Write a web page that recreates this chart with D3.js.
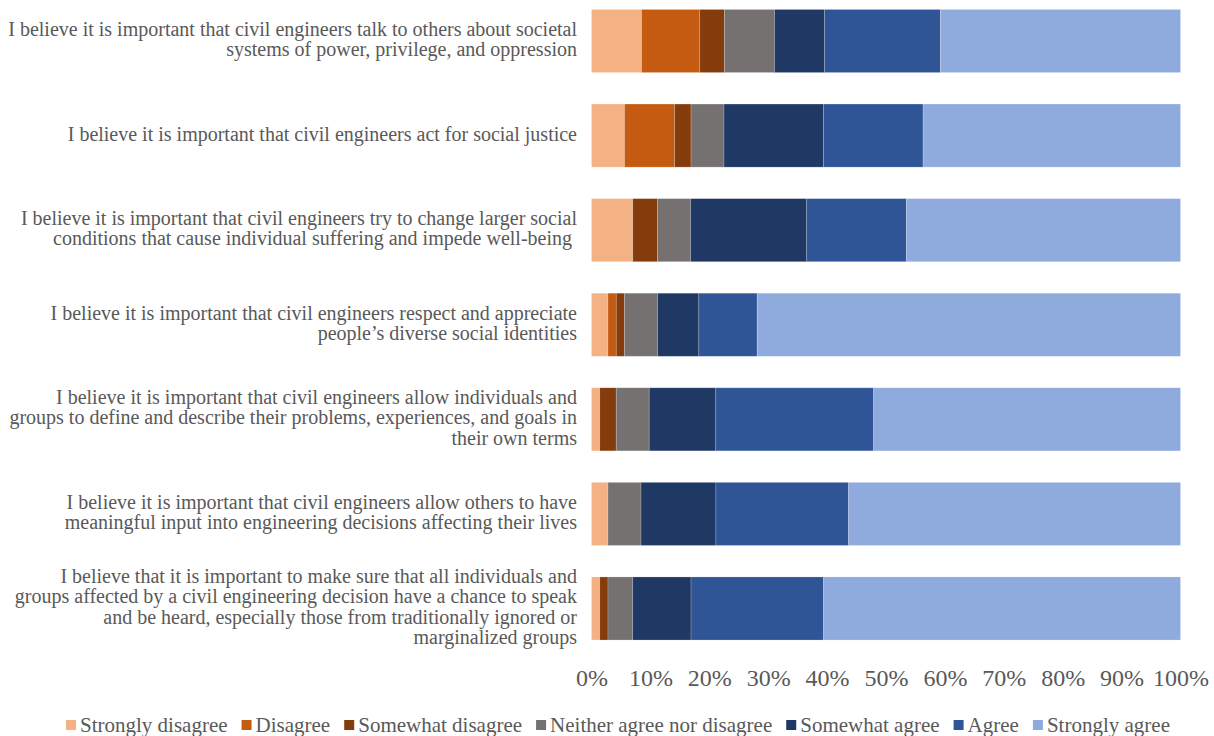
<!DOCTYPE html>
<html>
<head>
<meta charset="utf-8">
<script src="https://cdn.jsdelivr.net/npm/d3@7"></script>
<style>
  html, body { margin: 0; padding: 0; background: #fff; }
  svg { display: block; }
  text { font-family: "Liberation Serif", "Times New Roman", serif; fill: #595959; }
</style>
</head>
<body>
<svg id="chart" width="1214" height="736"></svg>
<script>
// Survey statements (top to bottom), each split into display lines
const statements = [
  ["I believe it is important that civil engineers talk to others about societal", "systems of power, privilege, and oppression"],
  ["I believe it is important that civil engineers act for social justice"],
  ["I believe it is important that civil engineers try to change larger social", "conditions that cause individual suffering and impede well-being\u00a0"],
  ["I believe it is important that civil engineers respect and appreciate", "people\u2019s diverse social identities"],
  ["I believe it is important that civil engineers allow individuals and", "groups to define and describe their problems, experiences, and goals in", "their own terms"],
  ["I believe it is important that civil engineers allow others to have", "meaningful input into engineering decisions affecting their lives"],
  ["I believe that it is important to make sure that all individuals and", "groups affected by a civil engineering decision have a chance to speak", "and be heard, especially those from traditionally ignored or", "marginalized groups"]
];

// Response categories (stack order, left to right)
const responses = ["Strongly disagree", "Disagree", "Somewhat disagree", "Neither agree nor disagree", "Somewhat agree", "Agree", "Strongly agree"];
const responseColors = ["#F4B183", "#C55A11", "#843C0C", "#767171", "#203864", "#2F5597", "#8FAADC"];

// Percent of respondents per response, one array per category, statements in order
const stronglyDisagree   = [8.5, 5.6, 7.0, 2.8, 1.4, 2.8, 1.4];
const disagree           = [9.9, 8.5, 0.0, 1.4, 0.0, 0.0, 0.0];
const somewhatDisagree   = [4.2, 2.8, 4.2, 1.4, 2.8, 0.0, 1.4];
const neither            = [8.5, 5.6, 5.6, 5.6, 5.6, 5.6, 4.2];
const somewhatAgree      = [8.5, 16.9, 19.7, 7.0, 11.3, 12.7, 9.9];
const agree              = [19.7, 16.9, 16.9, 9.9, 26.8, 22.5, 22.5];
const stronglyAgree      = [40.8, 43.7, 46.5, 71.8, 52.1, 56.3, 60.6];

// Axis tick values
const tickValues = [0, 0.1, 0.2, 0.3, 0.4, 0.5, 0.6, 0.7, 0.8, 0.9, 1.0];

const seriesValues = [stronglyDisagree, disagree, somewhatDisagree, neither, somewhatAgree, agree, stronglyAgree];
const rows = statements.map((s, i) => {
  const r = { id: i };
  responses.forEach((name, k) => { r[name] = seriesValues[k][i]; });
  return r;
});

const svg = d3.select("#chart");

const x = d3.scaleLinear().domain([0, 1]).range([591.5, 1180.5]);
const y = d3.scaleBand()
  .domain(rows.map(r => r.id))
  .range([-6.3, 655.8])
  .paddingInner(0.333)
  .paddingOuter(0.1667);
const color = d3.scaleOrdinal().domain(responses).range(responseColors);

const stack = d3.stack().keys(responses).offset(d3.stackOffsetExpand);
const layers = stack(rows);

// Stacked bars
const g = svg.append("g");
g.selectAll("g.layer")
  .data(layers)
  .join("g")
  .attr("class", "layer")
  .attr("fill", d => color(d.key))
  .selectAll("rect")
  .data(d => d.filter(s => s[1] - s[0] > 0))
  .join("rect")
  .attr("x", d => x(d[0]))
  .attr("y", d => y(d.data.id))
  .attr("width", d => x(d[1]) - x(d[0]))
  .attr("height", y.bandwidth())
  .attr("stroke", "#ffffff")
  .attr("stroke-opacity", 0.25)
  .attr("stroke-width", 0.75);

// Category labels, right aligned, vertically centered on bars
const lineH = 20.2;
const labels = svg.append("g");
statements.forEach((lines, i) => {
  const cy = y(i) + y.bandwidth() / 2 - 1.5;
  const t = labels.append("text")
    .attr("text-anchor", "end")
    .attr("font-size", 20)
    .style("white-space", "pre");
  lines.forEach((ln, j) => {
    t.append("tspan")
      .attr("x", 577)
      .attr("y", cy + (j - (lines.length - 1) / 2) * lineH)
      .attr("dy", "0.33em")
      .text(ln);
  });
});

// Percent axis
const axis = d3.axisBottom(x)
  .tickValues(tickValues)
  .tickFormat(d3.format(".0%"))
  .tickSize(0)
  .tickPadding(0);
const ax = svg.append("g")
  .attr("transform", "translate(0,669)")
  .call(axis);
ax.select(".domain").remove();
ax.selectAll("text")
  .attr("font-size", 24)
  .attr("dy", "0.71em")
  .style("fill", "#595959")
  .style("font-family", "'Liberation Serif', serif");

// Legend
const legend = svg.append("g").attr("transform", "translate(0,725)");
let lx = 66;
responses.forEach((name, k) => {
  const item = legend.append("g");
  item.append("rect")
    .attr("x", lx).attr("y", -5)
    .attr("width", 10).attr("height", 10)
    .attr("fill", color(name));
  const t = item.append("text")
    .attr("x", lx + 14)
    .attr("y", 0)
    .attr("dy", "0.35em")
    .attr("font-size", 21)
    .text(name);
  lx += 14 + t.node().getComputedTextLength() + 14;
});
</script>
</body>
</html>
